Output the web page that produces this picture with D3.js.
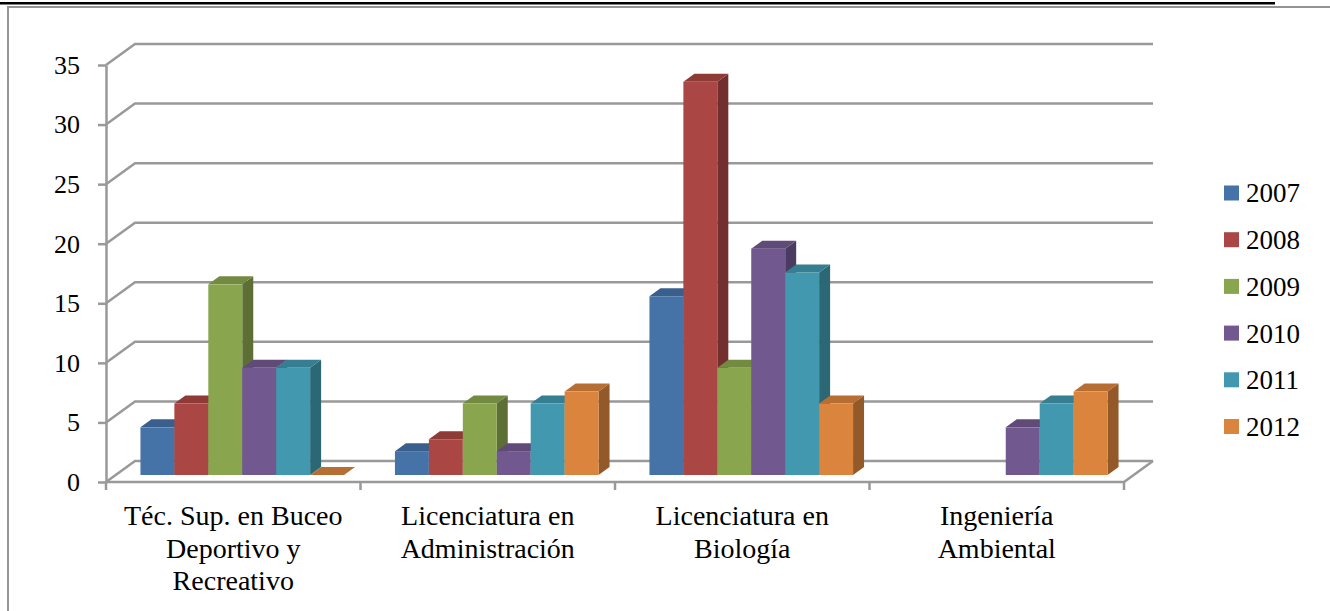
<!DOCTYPE html>
<html>
<head>
<meta charset="utf-8">
<script src="https://cdn.jsdelivr.net/npm/d3@7"></script>
<style>
  body { margin: 0; background: #fff; }
  svg { display: block; }
</style>
</head>
<body>
<div id="chart"></div>
<script>
// categories, each split into the lines shown under the axis
var categories = ["Téc. Sup. en Buceo Deportivo y Recreativo", "Licenciatura en Administración",
                  "Licenciatura en Biología", "Ingeniería Ambiental"];
var categoryLines = [["Téc. Sup. en Buceo", "Deportivo y", "Recreativo"],
                     ["Licenciatura en", "Administración"],
                     ["Licenciatura en", "Biología"],
                     ["Ingeniería", "Ambiental"]];
var years = ["2007", "2008", "2009", "2010", "2011", "2012"];

// one array per year, one value per category (null = no bar)
var v2007 = [4, 2, 15, null];
var v2008 = [6, 3, 33, null];
var v2009 = [16, 6, 9, null];
var v2010 = [9, 2, 19, 4];
var v2011 = [9, 6, 17, 6];
var v2012 = [0, 7, 6, 7];
var series = [v2007, v2008, v2009, v2010, v2011, v2012];

var yTicks = [0, 5, 10, 15, 20, 25, 30, 35];
var colors = ["#4572A7", "#AA4643", "#89A54E", "#71588F", "#4198AF", "#DB843D"];

function init() {
    var width = 1330;
    var height = 611;
    var font = "'Liberation Serif', Cambria, serif";
    var gridColor = "#999999";

    var svg = d3.select("#chart")
                .append("svg")
                .attr("width", width)
                .attr("height", height);

    // page rule and chart frame
    svg.append("rect")
        .attr("x", 0).attr("y", 2)
        .attr("width", 1275).attr("height", 2.5)
        .attr("fill", "#000");
    svg.append("path")
        .attr("d", "M8,611V7H1330")
        .attr("fill", "none")
        .attr("stroke", "#949494")
        .attr("stroke-width", 2);

    var left = 106, right = 1124, bottom = 482;
    var backDx = 29, backDy = -21;     // back wall offset
    var barDx = 9, barDy = -7;         // where the bars stand
    var depthDx = 11, depthDy = -8;    // bar depth

    var yScale = d3.scaleLinear()
                    .domain([0, 35])
                    .range([bottom, 65]);

    var x0 = d3.scaleBand()
                .domain(categories)
                .range([left, right]);

    var x1 = d3.scaleBand()
                .domain(years)
                .range([0, x0.bandwidth()])
                .paddingOuter(0.75);

    // back wall gridlines with their left wall diagonals
    svg.append("g")
        .selectAll("path")
        .data(yTicks)
        .enter()
        .append("path")
        .attr("d", function(d) {
            var y = yScale(d);
            return "M" + left + "," + y + "L" + (left + backDx) + "," + (y + backDy) + "H" + (right + backDx);
        })
        .attr("fill", "none")
        .attr("stroke", gridColor)
        .attr("stroke-width", 2.5);

    // floor front edge
    svg.append("path")
        .attr("d", "M" + left + "," + bottom + "H" + right + "L" + (right + backDx) + "," + (bottom + backDy))
        .attr("fill", "none")
        .attr("stroke", gridColor)
        .attr("stroke-width", 2.5);

    // Y axis
    var yAxis = d3.axisLeft(yScale)
                .tickValues(yTicks)
                .tickSize(8)
                .tickSizeOuter(0)
                .tickPadding(18);

    var yg = svg.append("g")
        .attr("transform", "translate(" + left + ",0)")
        .call(yAxis);
    yg.select(".domain").attr("stroke", gridColor).attr("stroke-width", 2.5);
    yg.selectAll(".tick line").attr("stroke", gridColor).attr("stroke-width", 2.5);
    yg.selectAll(".tick text")
        .attr("fill", "#000")
        .style("font-family", font)
        .style("font-size", "26px");

    // X axis ticks at category boundaries
    var bounds = categories.map(function(c) { return x0(c); }).concat([right]);
    svg.append("g")
        .selectAll("line")
        .data(bounds)
        .enter()
        .append("line")
        .attr("x1", function(d) { return d; })
        .attr("x2", function(d) { return d; })
        .attr("y1", bottom)
        .attr("y2", bottom + 8)
        .attr("stroke", gridColor)
        .attr("stroke-width", 2.5);

    // category labels
    var labels = svg.append("g")
        .selectAll("text")
        .data(categories)
        .enter()
        .append("text")
        .attr("text-anchor", "middle")
        .style("font-family", font)
        .style("font-size", "28px")
        .attr("fill", "#000");

    labels.each(function(c, i) {
        var cx = x0(c) + x0.bandwidth() / 2;
        d3.select(this).selectAll("tspan")
            .data(categoryLines[i])
            .enter()
            .append("tspan")
            .attr("x", cx)
            .attr("y", function(d, k) { return 525 + k * 32.5; })
            .text(function(d) { return d; });
    });

    // bars
    var bars = [];
    categories.forEach(function(c, i) {
        years.forEach(function(yr, j) {
            if (series[j][i] != null) {
                bars.push({cat: c, year: yr, value: series[j][i], color: colors[j]});
            }
        });
    });

    var w = x1.bandwidth();
    var g = svg.append("g")
        .selectAll("g.bar")
        .data(bars)
        .enter()
        .append("g")
        .attr("class", "bar");

    function xOf(d) { return x0(d.cat) + x1(d.year) + barDx; }
    var yb = bottom + barDy;

    // side face
    g.append("path")
        .attr("d", function(d) {
            var x = xOf(d) + w, yt = yScale(d.value) + barDy;
            return "M" + x + "," + yt + "L" + x + "," + yb +
                   "L" + (x + depthDx) + "," + (yb + depthDy) +
                   "L" + (x + depthDx) + "," + (yt + depthDy) + "Z";
        })
        .attr("fill", function(d) { return d3.color(d.color).darker(1.1); });

    // top face
    g.append("path")
        .attr("d", function(d) {
            var x = xOf(d), yt = yScale(d.value) + barDy;
            return "M" + x + "," + yt + "L" + (x + w) + "," + yt +
                   "L" + (x + w + depthDx) + "," + (yt + depthDy) +
                   "L" + (x + depthDx) + "," + (yt + depthDy) + "Z";
        })
        .attr("fill", function(d) { return d3.color(d.color).darker(0.5); });

    // front face
    g.append("rect")
        .attr("x", xOf)
        .attr("y", function(d) { return yScale(d.value) + barDy; })
        .attr("width", w)
        .attr("height", function(d) { return yb - (yScale(d.value) + barDy); })
        .attr("fill", function(d) { return d.color; });

    // legend
    var legend = svg.append("g")
        .selectAll("g")
        .data(years)
        .enter()
        .append("g")
        .attr("transform", function(d, i) {
            return "translate(1224," + (193 + i * 46.7) + ")";
        });

    legend.append("rect")
        .attr("x", 0).attr("y", -7.5)
        .attr("width", 15).attr("height", 15)
        .attr("fill", function(d, i) { return colors[i]; });

    legend.append("text")
        .attr("x", 22)
        .attr("dy", "0.35em")
        .style("font-family", font)
        .style("font-size", "27px")
        .text(function(d) { return d; });
}

window.onload = init;
</script>
</body>
</html>
